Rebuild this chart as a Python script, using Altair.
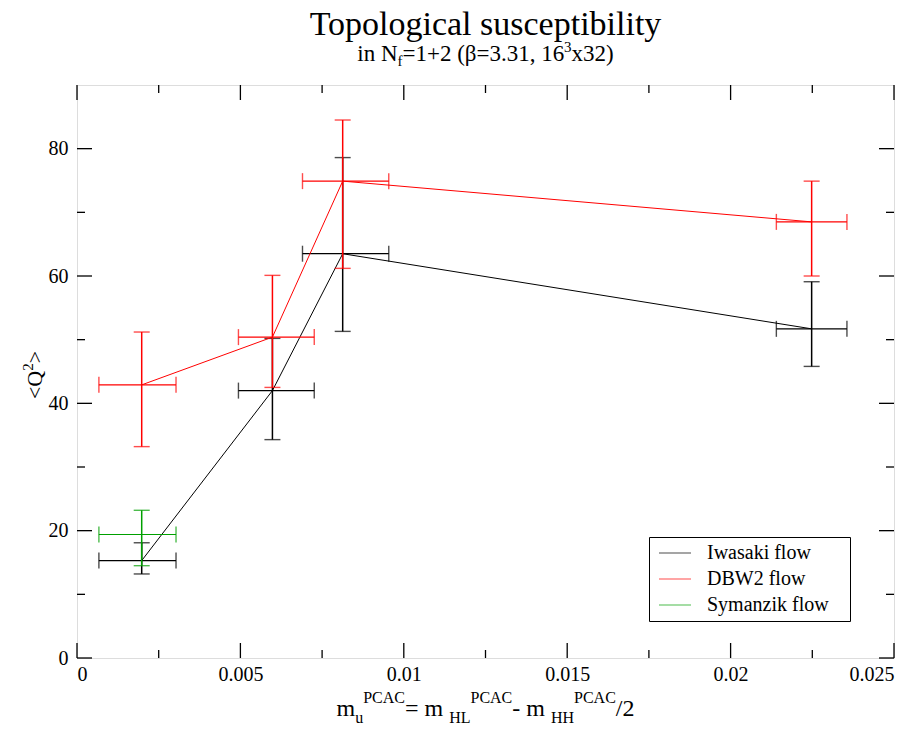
import altair as alt
import pandas as pd

# ---------------- data ----------------
series_names = ["Iwasaki flow", "DBW2 flow", "Symanzik flow"]
series_colors = ["#000000", "#ff0000", "#00a000"]

iw_x = [0.00198, 0.00598, 0.00813, 0.02248]
iw_xlo = [0.00067, 0.00494, 0.00690, 0.02140]
iw_xhi = [0.00303, 0.00726, 0.00954, 0.02356]
iw_y = [15.3, 42.0, 63.5, 51.7]
iw_ylo = [13.2, 34.3, 51.3, 45.8]
iw_yhi = [18.1, 50.2, 78.6, 59.1]

db_x = [0.00198, 0.00598, 0.00813, 0.02248]
db_xlo = [0.00067, 0.00494, 0.00690, 0.02140]
db_xhi = [0.00303, 0.00726, 0.00954, 0.02356]
db_y = [42.9, 50.4, 74.9, 68.5]
db_ylo = [33.2, 42.5, 61.2, 60.0]
db_yhi = [51.2, 60.1, 84.5, 74.9]

sy_x = [0.00198]
sy_xlo = [0.00067]
sy_xhi = [0.00303]
sy_y = [19.4]
sy_ylo = [14.5]
sy_yhi = [23.2]

x_major = [0, 0.005, 0.01, 0.015, 0.02, 0.025]
x_minor = [0.0025, 0.0075, 0.0125, 0.0175, 0.0225]
y_major = [0, 20, 40, 60, 80]
y_minor = [10, 30, 50, 70]

title_text = "Topological susceptibility"
# (text, kind) kind: n = normal, b = subscript, p = superscript
subtitle_parts = [("in N", "n"), ("f", "b"), ("=1+2 (\u03b2=3.31, 16", "n"), ("3", "p"), ("x32)", "n")]
xtitle_parts = [("m", "n"), ("u", "b"), ("PCAC", "p"), (" = m", "n"), ("HL", "b"), ("PCAC", "p"),
                (" - m", "n"), ("HH", "b"), ("PCAC", "p"), ("/2", "n")]
ytitle_parts = [("<Q", "n"), ("2", "p"), (">", "n")]

# ---------------- layout ----------------
W, H = 817, 573
FONT = "Liberation Serif"
MAJ, MIN = 15, 8

ADV = {' ': 250, '(': 333, ')': 333, '+': 564, '=': 564, '.': 250, ',': 250, '/': 278, '-': 333,
       '<': 564, '>': 564, 'N': 722, 'H': 722, 'L': 611, 'P': 556, 'C': 667, 'A': 722, 'Q': 722,
       'f': 333, 'i': 278, 'm': 778, 'n': 500, 'u': 500, 'x': 500, '\u03b2': 500}


def text_width(s, size):
    return sum(ADV.get(c, 500) for c in s) * size / 1000.0


def rich_layers(parts, size, small, sub_dy, sup_dy, x, y, angle=0):
    total = sum(text_width(t, size if k == "n" else small) for t, k in parts)
    layers = []
    pos = -total / 2
    for t, k in parts:
        fs = size if k == "n" else small
        dy = 0 if k == "n" else (sub_dy if k == "b" else sup_dy)
        kw = dict(align="left", baseline="alphabetic", font=FONT, fontSize=fs,
                  color="black", dx=pos, dy=dy)
        if angle:
            kw["angle"] = angle
        layers.append(
            alt.Chart(pd.DataFrame({"t": [t]})).mark_text(**kw).encode(
                text="t:N", x=alt.value(x), y=alt.value(y))
        )
        pos += text_width(t, fs)
    return layers


xscale = alt.Scale(domain=[0, 0.025], nice=False, zero=False)
yscale = alt.Scale(domain=[0, 90], nice=False, zero=False)
xaxis = alt.Axis(values=x_major, format="~g", ticks=False, domain=False, grid=False,
                 labelFont=FONT, labelFontSize=20, labelColor="black", labelPadding=6, title=None)
yaxis = alt.Axis(values=y_major, format="d", ticks=False, domain=False, grid=False,
                 labelFont=FONT, labelFontSize=20, labelColor="black", labelPadding=9, title=None)

color = alt.Color(
    "series:N",
    scale=alt.Scale(domain=series_names, range=series_colors),
    legend=alt.Legend(
        orient="none", legendX=572, legendY=452, title=None,
        symbolType="M-2,0H2", symbolSize=256, symbolStrokeWidth=1,
        symbolOffset=10, labelFont=FONT, labelFontSize=20,
        labelColor="black", labelOffset=22, rowPadding=6, padding=6,
        strokeColor="black", fillColor="white",
        labelExpr="datum.label + '\u2800'",
    ),
)

layers = []

# frame ticks (inward)
for vals, L in ((x_major, MAJ), (x_minor, MIN)):
    d = pd.DataFrame({"x": vals})
    base = alt.Chart(d).mark_rule(color="black", strokeWidth=1.3)
    layers.append(base.encode(x=alt.X("x:Q", scale=xscale, axis=xaxis), y=alt.value(H), y2=alt.value(H - L)))
    layers.append(base.encode(x=alt.X("x:Q", scale=xscale, axis=xaxis), y=alt.value(0), y2=alt.value(L)))
for vals, L in ((y_major, MAJ), (y_minor, MIN)):
    d = pd.DataFrame({"y": vals})
    base = alt.Chart(d).mark_rule(color="black", strokeWidth=1.3)
    layers.append(base.encode(y=alt.Y("y:Q", scale=yscale, axis=yaxis), x=alt.value(0), x2=alt.value(L)))
    layers.append(base.encode(y=alt.Y("y:Q", scale=yscale, axis=yaxis), x=alt.value(W), x2=alt.value(W - L)))

series_data = [
    (series_names[0], iw_x, iw_xlo, iw_xhi, iw_y, iw_ylo, iw_yhi),
    (series_names[1], db_x, db_xlo, db_xhi, db_y, db_ylo, db_yhi),
    (series_names[2], sy_x, sy_xlo, sy_xhi, sy_y, sy_ylo, sy_yhi),
]

X = lambda f: alt.X(f + ":Q", scale=xscale, axis=xaxis)
Y = lambda f: alt.Y(f + ":Q", scale=yscale, axis=yaxis)

for name, xs, xlo, xhi, ys, ylo, yhi in series_data:
    df = pd.DataFrame({"series": name, "x": xs, "xlo": xlo, "xhi": xhi, "y": ys, "ylo": ylo, "yhi": yhi})
    c = alt.Chart(df)
    layers.append(c.mark_line(strokeWidth=1).encode(x=X("x"), y=Y("y"), color=color, order="x:Q"))
    layers.append(c.mark_rule(strokeWidth=1.5).encode(x=X("x"), y=Y("ylo"), y2="yhi:Q", color=color))
    layers.append(c.mark_rule(strokeWidth=1.2).encode(y=Y("y"), x=X("xlo"), x2="xhi:Q", color=color))
    for f in ("ylo", "yhi"):
        layers.append(c.mark_tick(orient="horizontal", size=16, thickness=1.4).encode(
            x=X("x"), y=Y(f), color=color))
    for f in ("xlo", "xhi"):
        layers.append(c.mark_tick(orient="vertical", size=16, thickness=1.4).encode(
            x=X(f), y=Y("y"), color=color))

# titles
layers.append(
    alt.Chart(pd.DataFrame({"t": [title_text]})).mark_text(
        align="center", baseline="alphabetic", font=FONT, fontSize=34, color="black"
    ).encode(text="t:N", x=alt.value(W / 2), y=alt.value(-50))
)
layers += rich_layers(subtitle_parts, 23, 15, 5, -9, W / 2, -24)
layers += rich_layers(xtitle_parts, 24, 16, 7, -13, W / 2, 631)
layers += rich_layers(ytitle_parts, 22, 15, 0, -9, -35, 290, angle=270)

chart = alt.layer(*layers).properties(
    width=W, height=H,
    autosize=alt.AutoSizeParams(type="none"),
    padding={"left": 69, "top": 77, "right": 15, "bottom": 71},
).configure_view(stroke="black", strokeWidth=1.6).configure(font=FONT)

chart.save("out.html", embed_options={"renderer": "svg", "actions": False})
